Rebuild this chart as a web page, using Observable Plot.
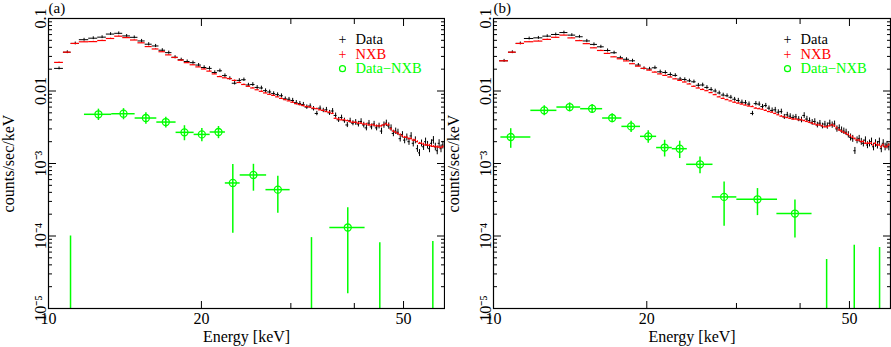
<!DOCTYPE html>
<html><head><meta charset="utf-8">
<script src="https://cdn.jsdelivr.net/npm/d3@7"></script>
<script src="https://cdn.jsdelivr.net/npm/@observablehq/plot@0.6"></script>
<style>
body{margin:0;background:#fff;}
#wrap{display:flex;width:891px;height:347px;overflow:hidden;}
#wrap svg, #wrap svg text{font-family:'Liberation Serif','Times New Roman',serif !important;}
</style></head><body><div id="wrap"></div>
<script>
// Energy bin edges (keV), shared by Data and NXB spectra in both panels
const edges = [10.28,10.70,11.08,11.50,12.0,12.5,13.0,13.5,14.0,14.5,15.0,15.5,16.0,16.5,17.0,17.5,18.0,18.5,19.0,19.5,
20.0,20.5,21.0,21.5,22.0,22.5,23.0,23.5,24.0,24.5,25.0,25.5,26.0,26.5,27.0,27.5,28.0,28.5,29.0,29.5,
30.0,30.5,31.0,31.5,32.0,32.5,33.0,33.5,34.0,34.5,35.0,35.5,36.0,36.5,37.0,37.5,38.0,38.5,39.0,39.5,
40.0,40.5,41.0,41.5,42.0,42.5,43.0,43.5,44.0,44.5,45.0,45.5,46.0,46.5,47.0,47.5,48.0,48.5,49.0,49.5,
50.0,50.5,51.0,51.5,52.0,52.5,53.0,53.5,54.0,54.5,55.0,55.5,56.0,56.5,57.0,57.5,58.0,58.5,59.0,59.5,60.0];

// Panel (a)
const dataA = [.0205,.0343,.0453,.0510,.0535,.0553,.0610,.0625,.0575,.0550,
.0490,.0442,.0418,.0365,.0338,.0292,.0270,.0255,.0246,.0228,
.0211,.0205,.0180,.0190,.0163,.0149,.0128,.0140,.0143,.0121,
.0123,.0112,.0110,.0101,.0097,.0092,.0089,.0086,.0078,.0077,
.0074,.0069,.0067,.0065,.0060,.0062,.0057,.0049,.0058,.0054,
.0055,.0050,.0053,.0046,.0040,.0043,.0039,.0034,.0039,.0036,
.0037,.0035,.0038,.0034,.0031,.0036,.0032,.0035,.0031,.0033,
.0028,.0034,.0036,.0033,.0031,.0026,.0028,.0027,.0022,.0025,
.0021,.0023,.0020,.0024,.0019,.0021,.0016,.0014,.0019,.0017,
.0020,.0018,.0016,.0019,.0021,.0017,.0015,.0019,.0016,.0018];
const nxbA = [.0248,.0343,.0453,.0477,.0480,.0497,.0530,.0570,.0545,.0505,
.0462,.0410,.0380,.0348,.0315,.0290,.0266,.0246,.0230,.0215,
.0201,.0188,.0172,.0158,.0152,.0148,.0140,.0131,.0123,.0116,
.0110,.0104,.0099,.0094,.0090,.0087,.0083,.0079,.0076,.0073,
.0070,.0067,.0065,.0063,.0061,.0060,.0058,.0057,.0055,.0054,
.0052,.0051,.0049,.0042,.0041,.0040,.0040,.0039,.0038,.0037,
.0037,.0036,.0036,.0035,.0035,.0034,.0034,.0034,.0033,.0033,
.0033,.0034,.0035,.0034,.0030,.0028,.0027,.0026,.0025,.0024,
.0023,.0023,.0022,.0022,.0021,.0021,.0020,.0019,.0019,.00185,
.0018,.0018,.00178,.00175,.00172,.0017,.0017,.00168,.00165,.0017];
const diffAE   = [12.54,14.05,15.55,17.02,18.52,20.04,21.61,23.06,25.32,28.28,38.83,11.05,32.94,44.9,57.1];
const diffALo  = [11.77,13.32,14.81,16.34,17.83,19.35,20.81,22.29,23.84,26.80,35.80,10.3,31.0,42.0,54.0];
const diffAHi  = [13.32,14.81,16.34,17.83,19.35,20.81,22.30,23.84,26.88,29.90,42.00,11.8,35.0,48.0,60.0];
const diffAY   = [4.77e-3,4.86e-3,4.24e-3,3.73e-3,2.69e-3,2.52e-3,2.72e-3,5.39e-4,6.95e-4,4.36e-4,1.31e-4,-2e-5,-2e-5,-2e-5,-2e-5];
const diffAErr = [0.85e-3,0.85e-3,0.77e-3,0.63e-3,0.63e-3,0.53e-3,0.52e-3,4.3e-4,2.8e-4,2.3e-4,1.15e-4,1.2e-4,1.15e-4,1.01e-4,1.04e-4];

// Panel (b)
const dataB = [.0261,.0343,.0453,.0530,.0541,.0571,.0602,.0640,.0590,.0560,
.0490,.0439,.0407,.0362,.0337,.0287,.0274,.0261,.0228,.0205,
.0201,.0209,.0184,.0180,.0169,.0164,.0146,.0144,.0138,.0134,
.0120,.0121,.0112,.0105,.0100,.0094,.0088,.0086,.0082,.0077,
.0074,.0070,.0069,.0066,.0049,.0067,.0066,.0061,.0063,.0058,
.0054,.0055,.0051,.0052,.0044,.0047,.0045,.0043,.0044,.0041,
.0040,.0046,.0041,.0039,.0037,.0038,.0034,.0036,.0033,.0035,
.0033,.0036,.0034,.0035,.0030,.0031,.0029,.0028,.0027,.0025,
.0023,.0022,.0015,.0021,.0022,.0020,.0019,.0021,.0018,.0019,
.0020,.0017,.0019,.0018,.0020,.0016,.0019,.0017,.0018,.0017];
const nxbB = [.0261,.0343,.0453,.0478,.0488,.0515,.0550,.0590,.0540,.0495,
.0450,.0394,.0362,.0330,.0296,.0278,.0260,.0238,.0220,.0205,
.0194,.0182,.0172,.0164,.0156,.0147,.0140,.0133,.0125,.0116,
.0110,.0105,.0101,.0095,.0089,.0083,.0079,.0076,.0073,.0070,
.0068,.0066,.0064,.0062,.0061,.0058,.0057,.0056,.0054,.0052,
.0051,.0049,.0047,.0045,.0044,.0043,.0042,.0041,.0041,.0040,
.0040,.0039,.0038,.0037,.0036,.0035,.0034,.0034,.0033,.0032,
.0032,.0033,.0034,.0033,.0031,.0029,.0028,.0027,.0026,.0025,
.0024,.0023,.0022,.0021,.0021,.0020,.0020,.0019,.0019,.0019,
.0019,.0018,.0019,.0018,.0018,.0017,.0018,.0017,.0017,.0018];
const diffBE   = [10.81,12.58,14.11,15.62,17.10,18.63,20.13,21.68,23.21,25.44,28.37,32.99,39.08,45.1,51.1,57.3];
const diffBLo  = [10.34,11.84,13.32,14.83,16.38,17.87,19.44,20.91,22.44,23.95,26.90,30.05,36.02,42.2,48.2,54.2];
const diffBHi  = [11.84,13.32,14.83,16.38,17.87,19.44,20.91,22.44,24.02,26.98,30.05,36.12,42.22,48.2,54.2,60.2];
const diffBY   = [2.32e-3,5.41e-3,6.01e-3,5.70e-3,4.24e-3,3.25e-3,2.37e-3,1.66e-3,1.60e-3,9.75e-4,3.46e-4,3.21e-4,2.04e-4,-2e-5,-2e-5,-2e-5];
const diffBErr = [0.70e-3,0.85e-3,0.85e-3,0.80e-3,0.60e-3,0.58e-3,0.46e-3,0.43e-3,0.43e-3,2.5e-4,2.1e-4,1.3e-4,1.1e-4,6.74e-5,9.46e-5,8.93e-5];

// Relative 1-sigma errors by energy band
const errBandUpTo = [15,20,25,30,35,40,45,50,55,61];
const dataRelErr  = [.045,.05,.055,.06,.07,.08,.09,.10,.11,.12];
const nxbRelErr   = [.012,.012,.015,.018,.02,.022,.025,.028,.03,.032];

// Axis ticks
const xLabeled = [10,20,50];
const xLabels = ["10","20","50"];
const xMinor = [30,40];
const yMajor = [1e-5,1e-4,1e-3,0.01,0.1];
const yLabels = ["10\u207B\u2075","10\u207B\u2074","10\u207B\u00B3","0.01","0.1"];
const yMinor = [1e-5,1e-4,1e-3,1e-2].flatMap(d => [2,3,4,5,6,7,8,9].map(m => d*m));

const legendItems = [
  {label: "Data", color: "black", sym: "+"},
  {label: "NXB", color: "#ff0000", sym: "+"},
  {label: "Data\u2212NXB", color: "#00ff00", sym: "o"}
];

const GREEN = "#00ff00", RED = "#ff0000";
const FONT = "'Liberation Serif','Times New Roman',serif";

function rel(e, arr) { const i = errBandUpTo.findIndex(u => e < u); return arr[i < 0 ? arr.length - 1 : i]; }
function specRows(vals, relArr) {
  return vals.map((v, i) => {
    const lo = edges[i], hi = edges[i + 1], e = (lo + hi) / 2, r = rel(e, relArr);
    return {lo, hi, e, y: v, y1: v * (1 - r), y2: v * (1 + r)};
  });
}
function diffRows(E, Lo, Hi, Y, Err) {
  return E.map((e, i) => ({e, lo: Lo[i], hi: Hi[i], y: Y[i], y1: Math.max(Y[i] - Err[i], 1e-7), y2: Y[i] + Err[i]}));
}

const panels = [
  {tag: "(a)", width: 445, data: dataA, nxb: nxbA, diff: diffRows(diffAE, diffALo, diffAHi, diffAY, diffAErr)},
  {tag: "(b)", width: 446, data: dataB, nxb: nxbB, diff: diffRows(diffBE, diffBLo, diffBHi, diffBY, diffBErr)}
];

const wrap = document.getElementById("wrap");
for (const p of panels) {
  const dRows = specRows(p.data, dataRelErr);
  const nRows = specRows(p.nxb, nxbRelErr);
  const gRows = p.diff;
  const gPos = gRows.filter(d => d.y > 0);
  const blank = () => "";
  const marks = [
    Plot.ruleY(dRows, {y: "y", x1: "lo", x2: "hi", stroke: "black", strokeWidth: 1, clip: true}),
    Plot.ruleX(dRows, {x: "e", y1: "y1", y2: "y2", stroke: "black", strokeWidth: 1, clip: true}),
    Plot.ruleY(nRows, {y: "y", x1: "lo", x2: "hi", stroke: RED, strokeWidth: 1.2, clip: true}),
    Plot.ruleX(nRows, {x: "e", y1: "y1", y2: "y2", stroke: RED, strokeWidth: 1, clip: true}),
    Plot.ruleY(gPos, {y: "y", x1: "lo", x2: "hi", stroke: GREEN, strokeWidth: 1.5, clip: true}),
    Plot.ruleX(gRows, {x: "e", y1: "y1", y2: "y2", stroke: GREEN, strokeWidth: 1.5, clip: true}),
    Plot.dot(gPos, {x: "e", y: "y", r: 3.5, stroke: GREEN, strokeWidth: 1.3, fill: "none", clip: true}),
    Plot.frame({stroke: "black", strokeWidth: 1.2}),
    // bottom axis
    Plot.axisX(xLabeled, {anchor: "bottom", tickSize: 0, tickPadding: 4, fontSize: 16,
      tickFormat: d => xLabels[xLabeled.indexOf(d)], label: "Energy [keV]", labelAnchor: "center", labelOffset: 33, labelArrow: "none"}),
    Plot.axisX(xLabeled, {anchor: "bottom", tickSize: -7, tickFormat: blank, label: null}),
    Plot.axisX(xMinor, {anchor: "bottom", tickSize: -5, tickFormat: blank, label: null}),
    Plot.axisX(xLabeled, {anchor: "top", tickSize: -7, tickFormat: blank, label: null}),
    Plot.axisX(xMinor, {anchor: "top", tickSize: -5, tickFormat: blank, label: null}),
    // left/right axis
    Plot.axisY(yMajor, {anchor: "left", tickSize: 0, tickRotate: -90, tickPadding: 3, fontSize: 16,
      tickFormat: d => yLabels[yMajor.indexOf(d)], label: "counts/sec/keV", labelAnchor: "center", labelOffset: 46, labelArrow: "none"}),
    Plot.axisY(yMajor, {anchor: "left", tickSize: -8, tickFormat: blank, label: null}),
    Plot.axisY(yMinor, {anchor: "left", tickSize: -4, tickFormat: blank, label: null}),
    Plot.axisY(yMajor, {anchor: "right", tickSize: -8, tickFormat: blank, label: null}),
    Plot.axisY(yMinor, {anchor: "right", tickSize: -4, tickFormat: blank, label: null}),
    // panel tag
    Plot.text([p.tag], {frameAnchor: "top-left", dx: 0, dy: -10, textAnchor: "start", lineAnchor: "middle", fontSize: 15, fill: "black"})
  ];
  legendItems.forEach((it, i) => {
    const dy = 21 + 14.6 * i;
    if (it.sym === "+") {
      marks.push(Plot.text(["+"], {frameAnchor: "top-left", dx: 294, dy, textAnchor: "middle", lineAnchor: "middle", fontSize: 14, fill: it.color}));
    } else {
      marks.push(Plot.dot([0], {frameAnchor: "top-left", dx: 294, dy, r: 3, stroke: it.color, strokeWidth: 1.2, fill: "none"}));
    }
    marks.push(Plot.text([it.label], {frameAnchor: "top-left", dx: 307, dy, textAnchor: "start", lineAnchor: "middle", fontSize: 14.5, fill: it.color}));
  });
  const chart = Plot.plot({
    width: p.width, height: 347,
    marginLeft: 48, marginRight: 1, marginTop: 18, marginBottom: 39,
    style: {fontFamily: FONT, fontSize: "15px", background: "white", color: "black"},
    x: {type: "log", domain: [10, 60.2]},
    y: {type: "log", domain: [1e-5, 0.1]},
    marks
  });
  wrap.appendChild(chart);
}
</script>
</body></html>
